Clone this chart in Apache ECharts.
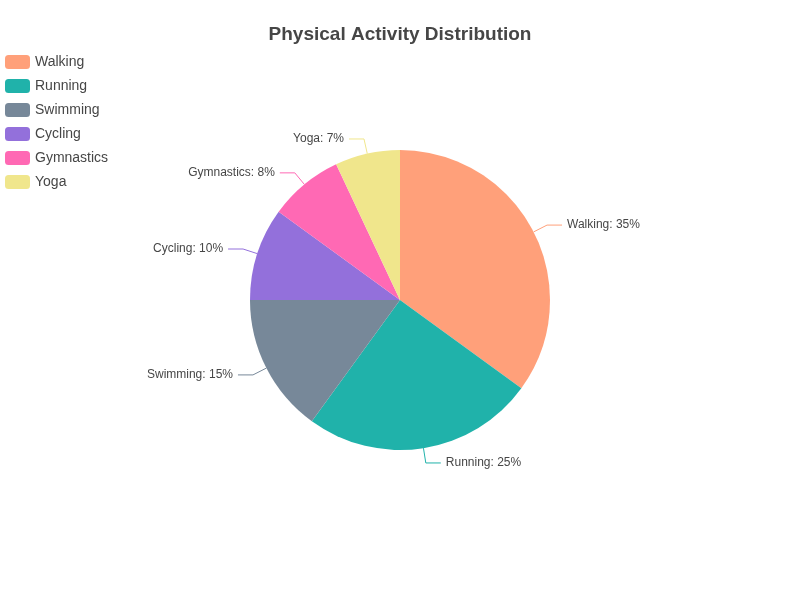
<!DOCTYPE html>
<html>
<head>
<meta charset="utf-8">
<script src="https://cdn.jsdelivr.net/npm/echarts@6/dist/echarts.min.js"></script>
<style>
  html, body { margin: 0; padding: 0; }
  #main { width: 800px; height: 600px; }
</style>
</head>
<body>
<div id="main"></div>
<script>
// activity names and their share in percent
const activities = ['Walking', 'Running', 'Swimming', 'Cycling', 'Gymnastics', 'Yoga']
const shares = [35, 25, 15, 10, 8, 7]
const colors = ['#FFA07A', '#20B2AA', '#778899', '#9370DB', '#FF69B4', '#F0E68C']

const chart = echarts.init(document.getElementById('main'))
const option = {
    color: colors,
    title: {
        text: 'Physical Activity Distribution',
        left: 'center',
        top: 20,
        textStyle: {
            fontSize: 19,
            fontWeight: 'bold',
            color: '#464646'
        }
    },
    legend: {
        orient: 'vertical',
        left: 0,
        top: 50,
        itemWidth: 25,
        itemHeight: 14,
        itemGap: 10,
        textStyle: {
            fontSize: 14,
            color: '#464646'
        },
        data: activities
    },
    series: [
        {
            type: 'pie',
            radius: '50%',
            center: ['50%', '50%'],
            label: {
                formatter: '{b}: {c}%',
                fontSize: 12,
                color: '#464646'
            },
            labelLine: {
                length: 15,
                length2: 15
            },
            data: activities.map((name, i) => {
                return { name: name, value: shares[i] }
            })
        }
    ]
}
chart.setOption(option)
</script>
</body>
</html>
